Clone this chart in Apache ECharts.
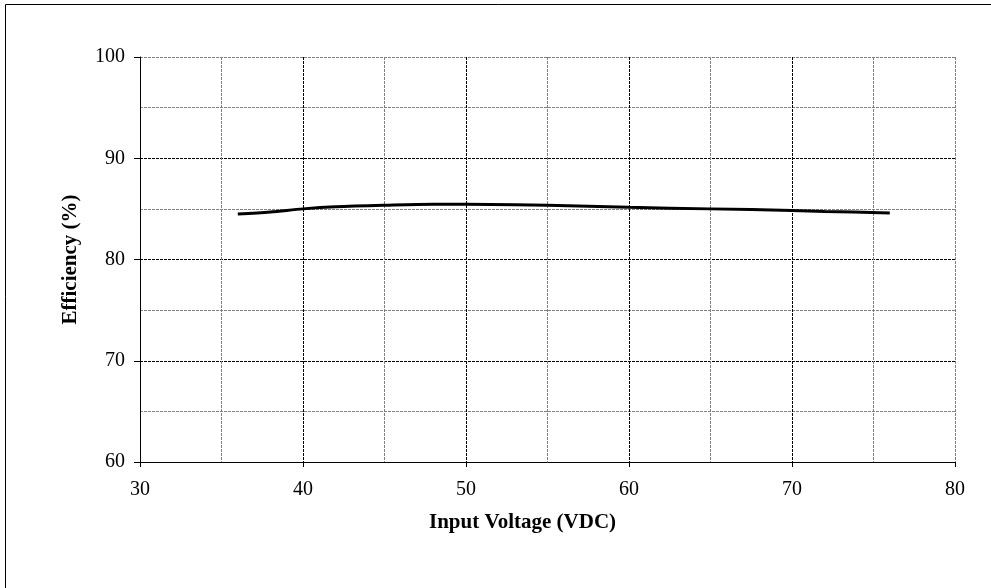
<!DOCTYPE html>
<html>
<head>
<meta charset="utf-8">
<script src="https://cdn.jsdelivr.net/npm/echarts@6/dist/echarts.min.js"></script>
<style>
  html, body { margin: 0; padding: 0; background: #fff; }
  #chart { width: 991px; height: 588px; }
</style>
</head>
<body>
<div id="chart"></div>
<script>
// Efficiency vs input voltage
const inputVoltage = [36, 38, 40, 42, 45, 48, 50, 53, 55, 60, 65, 70, 72, 76];
const efficiency   = [84.5, 84.7, 85.0, 85.2, 85.35, 85.45, 85.45, 85.4, 85.35, 85.15, 85.0, 84.85, 84.75, 84.6];

const xTitle = 'Input Voltage (VDC)';
const yTitle = 'Efficiency (%)';

const serif = '"Liberation Serif", "Times New Roman", serif';
const BLACK = '#000000';
const GRAY = '#808080';
// gridline colours, one per line from min to max (major every 10, minor every 5, outer edge minor)
const xGridColors = [BLACK, GRAY, BLACK, GRAY, BLACK, GRAY, BLACK, GRAY, BLACK, GRAY, GRAY];
const yGridColors = [BLACK, GRAY, BLACK, GRAY, BLACK, GRAY, BLACK, GRAY, GRAY];

const labelStyle = { fontFamily: serif, fontSize: 20, color: '#000' };
const titleStyle = { fontFamily: serif, fontSize: 21, fontWeight: 'bold', color: '#000' };

const chart = echarts.init(document.getElementById('chart'), null, { renderer: 'canvas' });

chart.setOption({
  animation: false,
  backgroundColor: '#ffffff',
  graphic: [{
    type: 'rect',
    shape: { x: 5.5, y: 4.5, width: 1100, height: 700 },
    style: { fill: 'none', stroke: '#000', lineWidth: 1 },
    silent: true
  }],
  grid: { left: 140, top: 57, right: 36, bottom: 126 },
  xAxis: [{
    type: 'value',
    min: 30, max: 80, interval: 5,
    name: xTitle,
    nameLocation: 'middle',
    nameGap: 50,
    nameTextStyle: Object.assign({ padding: [0, 50, 0, 0] }, titleStyle),
    axisLine: { show: true, lineStyle: { color: '#000', width: 1 } },
    axisTick: { show: false },
    axisLabel: Object.assign({ margin: 18, formatter: v => (v % 10 === 0 ? String(v) : '') }, labelStyle),
    splitLine: { show: true, lineStyle: { color: xGridColors, type: [3, 1], width: 1 } }
  }, {
    // tick marks at the labelled values only
    type: 'value',
    position: 'bottom',
    min: 30, max: 80, interval: 10,
    axisLine: { show: false },
    axisTick: { show: true, length: 5, lineStyle: { color: '#000' } },
    axisLabel: { show: false },
    splitLine: { show: false }
  }],
  yAxis: [{
    type: 'value',
    min: 60, max: 100, interval: 5,
    name: yTitle,
    nameLocation: 'middle',
    nameGap: 59,
    nameTextStyle: titleStyle,
    axisLine: { show: true, lineStyle: { color: '#000', width: 1 } },
    axisTick: { show: false },
    axisLabel: Object.assign({ margin: 15, formatter: v => (v % 10 === 0 ? String(v) : '') }, labelStyle),
    splitLine: { show: true, lineStyle: { color: yGridColors, type: [3, 1], width: 1 } }
  }, {
    type: 'value',
    position: 'left',
    min: 60, max: 100, interval: 10,
    axisLine: { show: false },
    axisTick: { show: true, length: 6, lineStyle: { color: '#000' } },
    axisLabel: { show: false },
    splitLine: { show: false }
  }],
  series: [{
    type: 'line',
    data: inputVoltage.map((v, i) => [v, efficiency[i]]),
    smooth: 0.3,
    showSymbol: false,
    lineStyle: { color: '#000', width: 3 }
  }]
});
</script>
</body>
</html>
